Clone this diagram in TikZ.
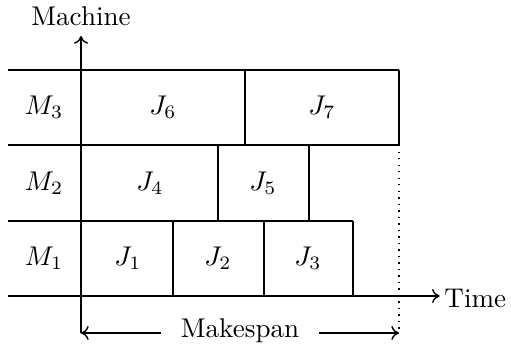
\documentclass[tikz,border=0pt]{standalone}
\usetikzlibrary{arrows.meta}
\begin{document}
\begin{tikzpicture}[x=0.3914pt,y=-0.3914pt,line width=0.55pt,
  lbl/.style={inner sep=1pt,scale=1.06},
  axarrow/.style={-{To[length=3pt,width=5.5pt]}}]
\useasboundingbox (0,0) rectangle (511,349);
% grid rows
\draw (8,70) -- (399,70);
\draw (8,145) -- (399,145);
\draw (8,221) -- (353,221);
% M3 row
\draw (245,70) -- (245,145);
\draw (399,70) -- (399,145);
% M2 row
\draw (218,145) -- (218,221);
\draw (309,145) -- (309,221);
% M1 row
\draw (173,221) -- (173,296);
\draw (264,221) -- (264,296);
\draw (353,221) -- (353,296);
% dotted makespan end
\coordinate (mend) at (399,333);
\coordinate (mstart) at (81,333);
\draw[dotted] (399,145) -- (mend);
% axes
\node[lbl] (machine) at (81,16) {Machine};
\node[lbl,anchor=west] (time) at (441,298) {Time};
\coordinate (ybot) at (81,333);
\coordinate (xstart) at (8,296);
\draw[axarrow] (ybot) -- (81,36);
\draw[axarrow] (xstart) -- ([xshift=-0.5pt]time.west |- xstart);
% labels
\node[lbl] (m3) at (44,107) {$M_3$};
\node[lbl] (j6) at (163,107) {$J_6$};
\node[lbl] (j7) at (322,107) {$J_7$};
\node[lbl] (m2) at (44,183) {$M_2$};
\node[lbl] (j4) at (150,183) {$J_4$};
\node[lbl] (j5) at (263,183) {$J_5$};
\node[lbl] (m1) at (44,258) {$M_1$};
\node[lbl] (j1) at (128,258) {$J_1$};
\node[lbl] (j2) at (218,258) {$J_2$};
\node[lbl] (j3) at (308,258) {$J_3$};
% makespan
\node[lbl,inner sep=0pt] (mk) at (240,331) {Makespan};
\draw[axarrow] ([xshift=-7.5pt]mk.west |- mstart) -- (mstart);
\draw[axarrow] ([xshift=7.5pt]mk.east |- mend) -- (mend);
\end{tikzpicture}
\end{document}
